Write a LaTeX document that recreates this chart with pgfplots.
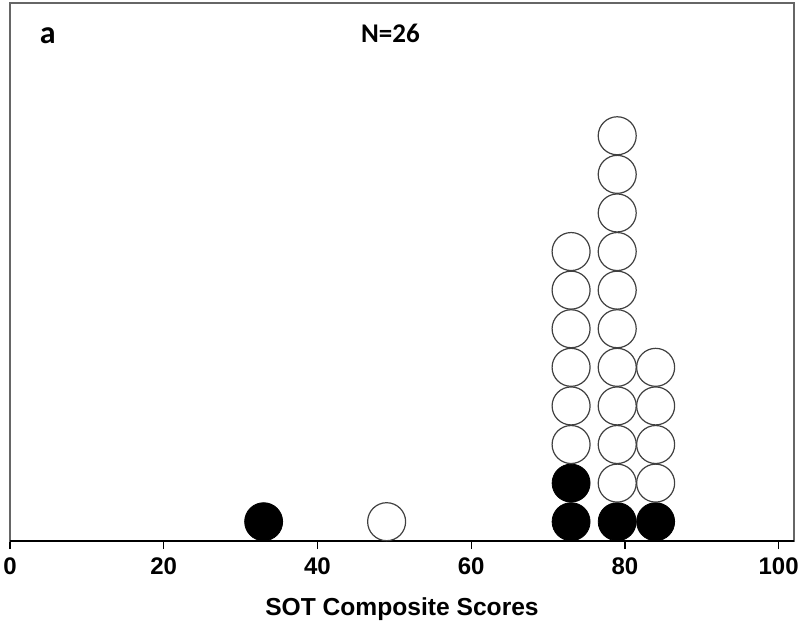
\documentclass[border=0pt]{standalone}
\usepackage{fontspec}
\setmainfont{Liberation Sans}
\newfontfamily\carlito{Carlito}
\usepackage{pgfplots}
\pgfplotsset{compat=1.18}
\begin{document}
\begin{tikzpicture}
% picture is 800x623 px at 1px = 0.5pt; axis box south west sits at (0,0)
\useasboundingbox (-5pt,-41pt) rectangle (395pt,270.5pt);
\begin{axis}[
    scale only axis,
    width=392pt, height=269pt,
    xmin=0, xmax=102, ymin=0, ymax=13.94,
    xtick={0,20,40,60,80,100},
    ytick=\empty,
    tick align=outside,
    tick pos=bottom,
    major tick length=4pt,
    tick style={black, line width=0.6pt},
    axis line style={gray!80!black, line width=1pt},
    /pgf/number format/assume math mode=true,
    xticklabel style={font=\bfseries\fontsize{12}{14}\selectfont, yshift=-1pt},
    xlabel={SOT Composite Scores},
    xlabel style={font=\bfseries\fontsize{12.3}{14}\selectfont, yshift=-4.5pt},
    clip=false,
    ]
% filled dots
\addplot[only marks, mark=*, mark size=9.5pt, mark options={fill=black, draw=black}]
coordinates {(33,0.5) (73,0.5) (73,1.5) (79,0.5) (84,0.5)};
% open dots
\addplot[only marks, mark=o, mark size=9.5pt, mark options={draw=black!75, line width=0.6pt, fill=white}]
coordinates {
(49,0.5)
(73,2.5) (73,3.5) (73,4.5) (73,5.5) (73,6.5) (73,7.5)
(79,1.5) (79,2.5) (79,3.5) (79,4.5) (79,5.5) (79,6.5) (79,7.5) (79,8.5) (79,9.5) (79,10.5)
(84,1.5) (84,2.5) (84,3.5) (84,4.5)
};
\draw[black, line width=0.6pt] (rel axis cs:0,0) -- (rel axis cs:1,0);
\node[font=\carlito\bfseries\fontsize{16}{18}\selectfont] at (axis cs:4.9,13.1) {a};
\node[font=\carlito\bfseries\fontsize{13.5}{16}\selectfont] at (axis cs:49.5,13.15) {N=26};
\end{axis}
\end{tikzpicture}
\end{document}
